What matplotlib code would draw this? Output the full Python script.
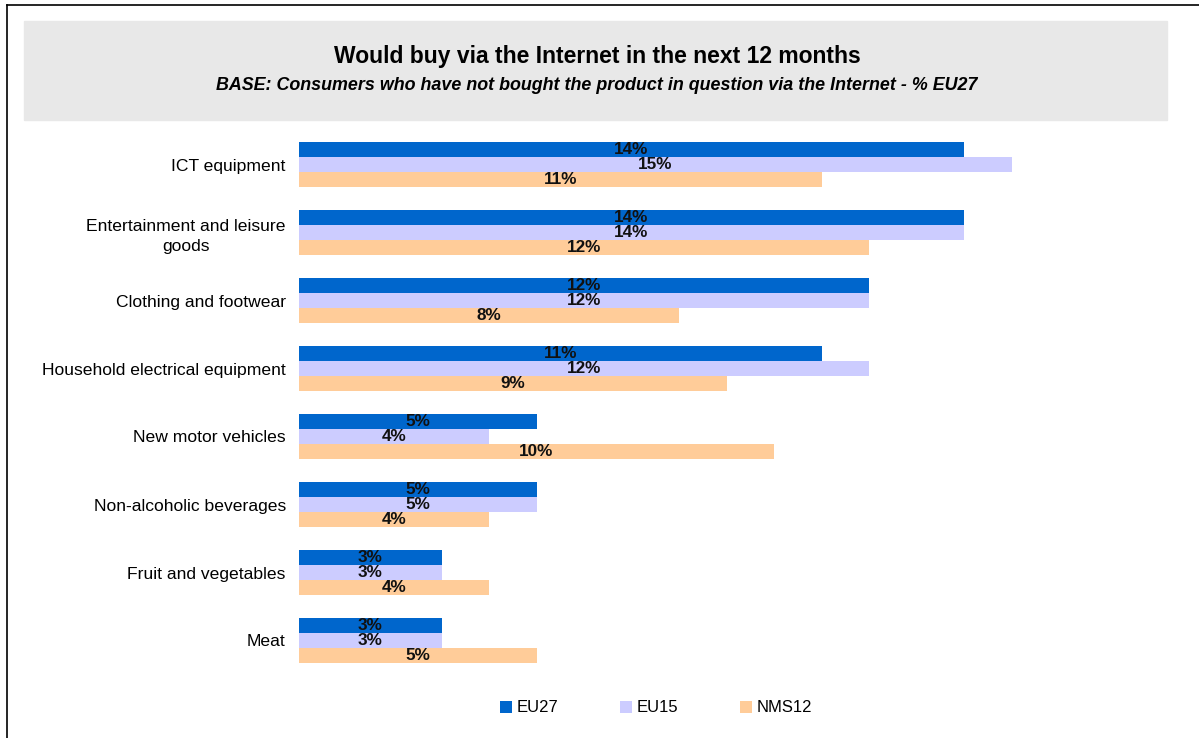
import matplotlib.pyplot as plt
from matplotlib.patches import Rectangle, Patch
from matplotlib.lines import Line2D
import numpy as np

plt.rcParams["font.family"] = ["Liberation Sans", "DejaVu Sans"]

categories = ["ICT equipment", "Entertainment and leisure\ngoods", "Clothing and footwear",
              "Household electrical equipment", "New motor vehicles", "Non-alcoholic beverages",
              "Fruit and vegetables", "Meat"]
eu27 = [14, 14, 12, 11, 5, 5, 3, 3]
eu15 = [15, 14, 12, 12, 4, 5, 3, 3]
nms12 = [11, 12, 8, 9, 10, 4, 4, 5]

series = [("EU27", eu27, "#0066cc"), ("EU15", eu15, "#ccccff"), ("NMS12", nms12, "#ffcc99")]

W, H = 1199, 738
fig = plt.figure(figsize=(W / 100, H / 100), dpi=100)

# frame lines (left and top) and grey title band
fig.add_artist(Line2D([6.5 / W, 6.5 / W], [0, 1 - 5 / H], color="black", lw=1.2))
fig.add_artist(Line2D([6.5 / W, 1], [1 - 5 / H, 1 - 5 / H], color="black", lw=1.2))
fig.add_artist(Rectangle((24 / W, 1 - 120 / H), (1167 - 24) / W, 99 / H,
                         transform=fig.transFigure, color="#e8e8e8", zorder=0))

fig.text(597 / W, 1 - 57 / H, "Would buy via the Internet in the next 12 months",
         ha="center", va="center", fontsize=16.5, fontweight="bold")
fig.text(597 / W, 1 - 85 / H,
         "BASE: Consumers who have not bought the product in question via the Internet - % EU27",
         ha="center", va="center", fontsize=12.9, fontweight="bold", style="italic")

ax = fig.add_axes([299 / W, 1 - 674.5 / H, 855 / W, 544 / H])

y = np.arange(len(categories))
h = 15 / 68
for k, (name, vals, col) in enumerate(series):
    pos = y + (k - 1) * h
    ax.barh(pos, vals, height=h, color=col, label=name)
    for p, v in zip(pos, vals):
        ax.text(v / 2, p, f"{v}%", ha="center", va="center",
                fontsize=12.3, fontweight="bold", color="#111111")

ax.set_xlim(0, 18)
ax.set_ylim(len(categories) - 0.5, -0.5)
ax.set_yticks(y)
ax.set_yticklabels(categories, fontsize=12.6, multialignment="center", linespacing=1.4)
ax.tick_params(axis="y", length=0, pad=9.5)
ax.set_xticks([])
for s in ax.spines.values():
    s.set_visible(False)

handles = [Patch(facecolor=c, label=n) for n, _, c in series]
fig.legend(handles=handles, loc="center", bbox_to_anchor=(656 / W, 1 - 708 / H), ncol=3,
           frameon=False, fontsize=12, handlelength=0.7, handleheight=0.7,
           handletextpad=0.3, columnspacing=3.7)

fig.savefig("out.png", dpi=100)
